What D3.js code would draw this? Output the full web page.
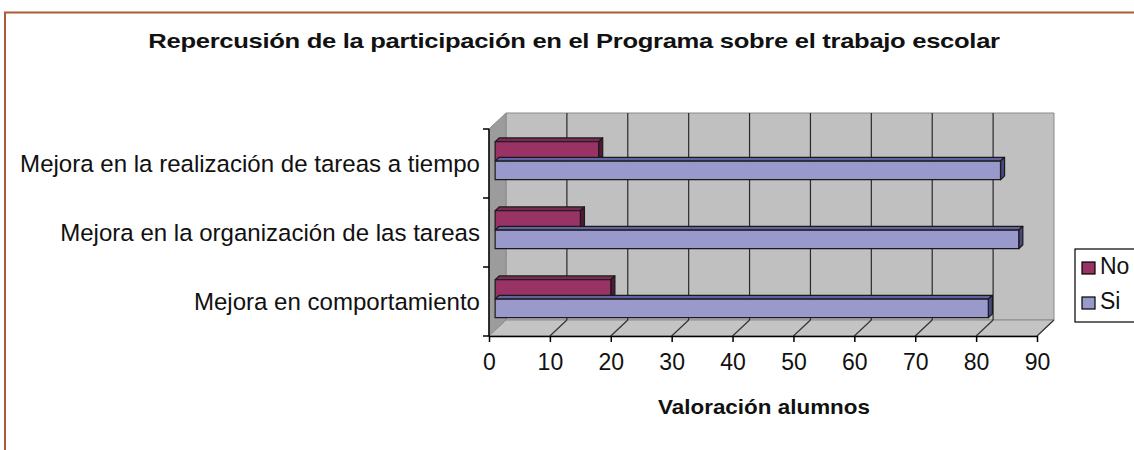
<!DOCTYPE html>
<html>
<head>
<meta charset="utf-8">
<script src="https://cdn.jsdelivr.net/npm/d3@7"></script>
<style>
  body { margin: 0; background: #fff; }
  text { font-family: "Liberation Sans", Arial, sans-serif; }
</style>
</head>
<body>
<svg class="chart"></svg>
<script>
// chart data
const categories = [
  "Mejora en la realización de tareas a tiempo",
  "Mejora en la organización de las tareas",
  "Mejora en comportamiento"
];
const series = ["No", "Si"];
const noValues = [17, 14, 19];
const siValues = [83, 86, 81];
const xTicks = [0, 10, 20, 30, 40, 50, 60, 70, 80, 90];

const chartTitle = "Repercusión de la participación en el Programa sobre el trabajo escolar";
const xTitle = "Valoración alumnos";

const width = 1134;
const height = 450;

// plot box (front plane) and depth offset of the 3D walls
const plotLeft = 489, plotRight = 1037, plotTop = 129, plotBottom = 336;
const DX = 17, DY = -16;
// bars sit between these depth fractions
const zFront = 0.36, zBack = 0.6;
const CAP = 0.716; // cap height / font size

const colors = {
  No: { front: "#993366", top: "#7a2a55", side: "#4f1a35" },
  Si: { front: "#9999cc", top: "#6262a3", side: "#48487f" }
};

const svg = d3.select(".chart")
    .attr("width", width)
    .attr("height", height);

// scales
const x = d3.scaleLinear().domain([0, 90]).range([plotLeft, plotRight]);
const y = d3.scaleBand().domain(categories)
    .range([plotTop + 3, plotBottom + 3])
    .paddingInner(0.45)
    .paddingOuter(0.225);
const ySub = d3.scaleBand().domain(series)
    .range([0, y.bandwidth()])
    .paddingInner(0.04);

const line = d3.line();

// outer frame (only top and left edges show)
svg.append("path")
    .attr("d", line([[5, height], [5, 12.5], [width, 12.5]]))
    .attr("fill", "none")
    .attr("stroke", "#aa5c36")
    .attr("stroke-width", 2);

// walls and floor
const g = svg.append("g");

g.append("path")   // back wall
    .attr("d", line([[plotLeft + DX, plotTop + DY], [plotRight + DX, plotTop + DY],
                     [plotRight + DX, plotBottom + DY], [plotLeft + DX, plotBottom + DY]]) + "Z")
    .attr("fill", "#c0c0c0")
    .attr("stroke", "#8a8a8a");

g.append("path")   // side wall
    .attr("d", line([[plotLeft, plotTop], [plotLeft + DX, plotTop + DY],
                     [plotLeft + DX, plotBottom + DY], [plotLeft, plotBottom]]) + "Z")
    .attr("fill", "#9c9c9c")
    .attr("stroke", "#8a8a8a");

g.append("path")   // floor
    .attr("d", line([[plotLeft, plotBottom], [plotRight, plotBottom],
                     [plotRight + DX, plotBottom + DY], [plotLeft + DX, plotBottom + DY]]) + "Z")
    .attr("fill", "#c4c4c4")
    .attr("stroke", "#8a8a8a");

// gridlines on back wall and floor
const inner = xTicks.filter(d => d > 0 && d < 90);
g.selectAll(".grid")
    .data(inner)
    .enter().append("line")
    .attr("class", "grid")
    .attr("x1", d => x(d) + DX).attr("x2", d => x(d) + DX)
    .attr("y1", plotTop + DY).attr("y2", plotBottom + DY)
    .attr("stroke", "#2a2a2a")
    .attr("stroke-width", 1.2);

g.selectAll(".floorgrid")
    .data(xTicks.filter(d => d > 0))
    .enter().append("line")
    .attr("class", "floorgrid")
    .attr("x1", d => x(d)).attr("y1", plotBottom)
    .attr("x2", d => x(d) + DX).attr("y2", plotBottom + DY)
    .attr("stroke", "#333")
    .attr("stroke-width", 1.2);

// bars, drawn bottom-up so upper faces cover lower ones
const bars = [];
categories.forEach((c, i) => {
  bars.push({ cat: c, s: "Si", v: siValues[i] });
  bars.push({ cat: c, s: "No", v: noValues[i] });
});
bars.reverse();

function barFaces(d) {
  const y0 = y(d.cat) + ySub(d.s);
  const y1 = y0 + ySub.bandwidth();
  const fx = zFront * DX, fy = zFront * DY;
  const bx = zBack * DX, by = zBack * DY;
  const x0 = x(0), x1 = x(d.v);
  return {
    front: [[x0 + fx, y0 + fy], [x1 + fx, y0 + fy], [x1 + fx, y1 + fy], [x0 + fx, y1 + fy]],
    top: [[x0 + fx, y0 + fy], [x1 + fx, y0 + fy], [x1 + bx, y0 + by], [x0 + bx, y0 + by]],
    side: [[x1 + fx, y0 + fy], [x1 + bx, y0 + by], [x1 + bx, y1 + by], [x1 + fx, y1 + fy]]
  };
}

const barG = g.selectAll(".bar")
    .data(bars)
    .enter().append("g")
    .attr("class", "bar");

["top", "side", "front"].forEach(face => {
  barG.append("path")
      .attr("d", d => line(barFaces(d)[face]) + "Z")
      .attr("fill", d => colors[d.s][face])
      .attr("stroke", "#1a1a1a")
      .attr("stroke-width", 1.2)
      .attr("stroke-linejoin", "round");
});

// x axis
const xAxis = svg.append("g")
    .attr("transform", `translate(0,${plotBottom})`)
    .call(d3.axisBottom(x).tickValues(xTicks).tickSize(6).tickSizeOuter(0));
xAxis.select(".domain").attr("stroke", "#000").attr("stroke-width", 1.5);
xAxis.selectAll(".tick line").attr("stroke", "#000").attr("stroke-width", 1.5);
xAxis.selectAll(".tick text")
    .attr("y", 34)
    .attr("dy", 0)
    .attr("fill", "#111")
    .style("font-size", "23px")
    .style("font-family", "'Liberation Sans', Arial, sans-serif");

// y axis: ticks at category boundaries
const boundaries = d3.range(categories.length + 1).map(i => plotTop + i * (plotBottom - plotTop) / categories.length);
svg.append("line")
    .attr("x1", plotLeft).attr("x2", plotLeft)
    .attr("y1", plotTop).attr("y2", plotBottom)
    .attr("stroke", "#000").attr("stroke-width", 1.5);
svg.selectAll(".ytick")
    .data(boundaries)
    .enter().append("line")
    .attr("class", "ytick")
    .attr("x1", plotLeft - 6).attr("x2", plotLeft)
    .attr("y1", d => d).attr("y2", d => d)
    .attr("stroke", "#000").attr("stroke-width", 1.5);

// size a text to a target width, then stretch it vertically to a target cap height
function fitText(sel, px, py, targetW, capH) {
  const fs = parseFloat(sel.style("font-size"));
  const w = sel.node().getComputedTextLength();
  const nfs = fs * targetW / w;
  sel.style("font-size", nfs + "px")
     .attr("x", 0).attr("y", 0)
     .attr("transform", `translate(${px},${py}) scale(1,${capH / (CAP * nfs)})`);
  return nfs;
}

// category labels share one size, fitted on the longest label
const labels = svg.selectAll(".cat")
    .data(categories)
    .enter().append("text")
    .attr("class", "cat")
    .attr("text-anchor", "end")
    .attr("fill", "#111")
    .style("font-size", "20px")
    .text(d => d);
const fsLab = 20 * 460 / labels.node().getComputedTextLength();
labels.style("font-size", fsLab + "px")
    .attr("transform", d => `translate(480,${y(d) + y.bandwidth() / 2 + 5.5}) scale(1,${16.7 / (CAP * fsLab)})`);

// title
const t = svg.append("text")
    .attr("text-anchor", "middle")
    .attr("font-weight", "bold")
    .attr("fill", "#111")
    .style("font-size", "18px")
    .style("letter-spacing", "-0.3px")
    .text(chartTitle);
fitText(t, 574, 48, 843, 14.5);

// x axis title
const xt = svg.append("text")
    .attr("text-anchor", "middle")
    .attr("font-weight", "bold")
    .attr("fill", "#111")
    .style("font-size", "17px")
    .text(xTitle);
fitText(xt, 764, 414, 212, 14.7);

// legend
const legend = svg.append("g").attr("transform", "translate(1075,249)");
legend.append("rect")
    .attr("width", 80).attr("height", 73)
    .attr("fill", "#fff")
    .attr("stroke", "#000")
    .attr("stroke-width", 1.2);
const item = legend.selectAll(".item")
    .data(series)
    .enter().append("g")
    .attr("class", "item")
    .attr("transform", (d, i) => `translate(7,${13 + i * 35})`);
item.append("rect")
    .attr("width", 13).attr("height", 12)
    .attr("fill", d => colors[d].front)
    .attr("stroke", "#000")
    .attr("stroke-width", 1.2);
item.append("text")
    .attr("x", 18)
    .attr("y", 12)
    .attr("fill", "#111")
    .style("font-size", "23px")
    .text(d => d);
</script>
</body>
</html>
